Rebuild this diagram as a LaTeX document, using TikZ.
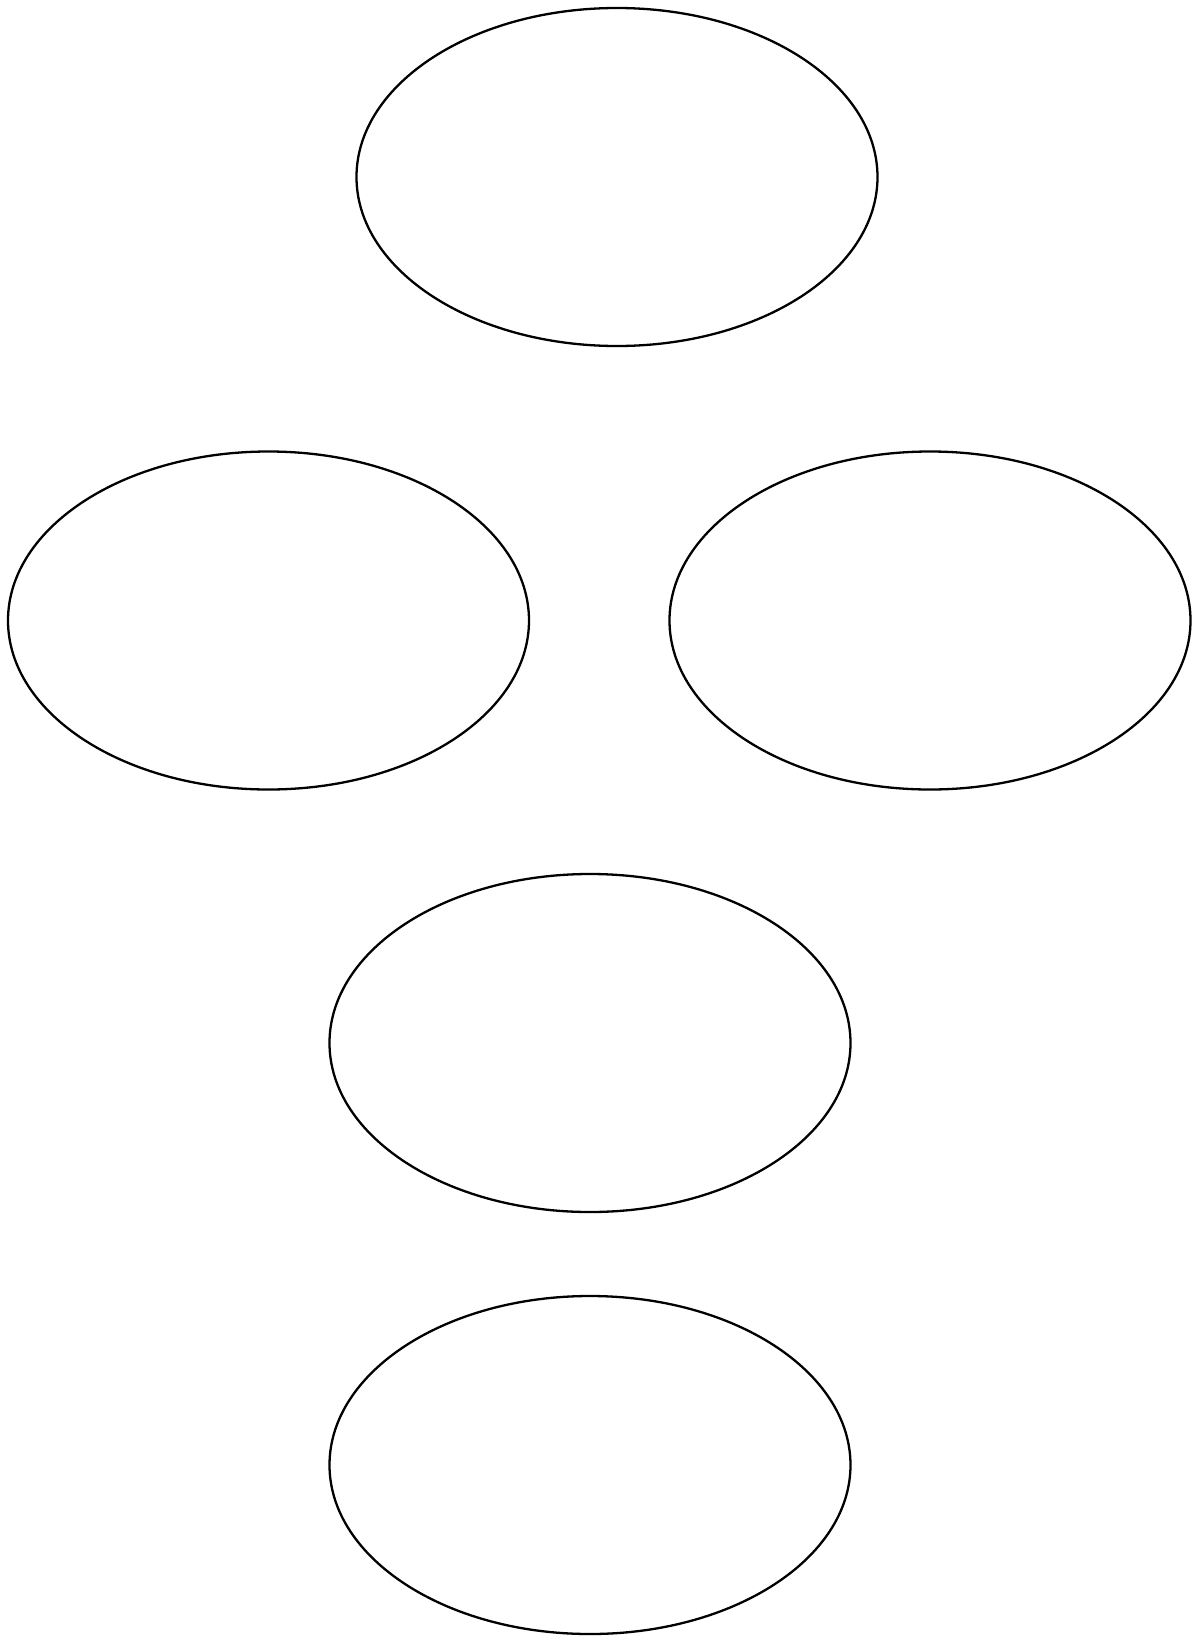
\documentclass[tikz,border=0pt]{standalone}
\usetikzlibrary{shapes.geometric}
\begin{document}
\begin{tikzpicture}[x=1pt,y=-1pt,
  oval/.style={draw=black, line width=2.3pt, ellipse, inner sep=0pt,
    minimum width=521pt, minimum height=338pt}]
\useasboundingbox (0,0) rectangle (1195,1636);
\node[oval] (e1) at (617,177) {};
\node[oval] (e2) at (268.5,620.5) {};
\node[oval] (e3) at (930,620.5) {};
\node[oval] (e4) at (590,1043) {};
\node[oval] (e5) at (590,1465) {};
\end{tikzpicture}
\end{document}
